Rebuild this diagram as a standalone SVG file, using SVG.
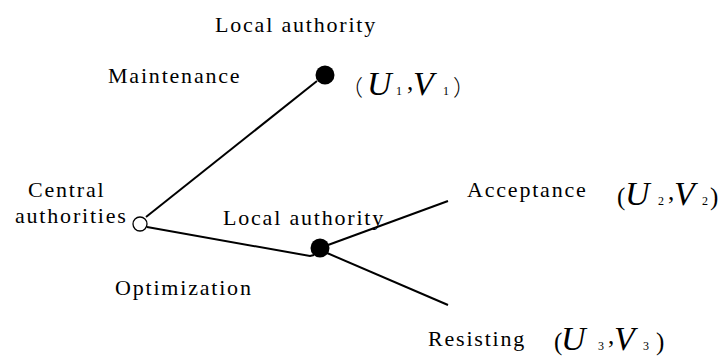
<svg xmlns="http://www.w3.org/2000/svg" width="719" height="358" viewBox="0 0 719 358">
<style>
.t{font-family:'Liberation Serif','Times New Roman',Times,serif;font-size:22px;letter-spacing:1.8px;fill:#000}
.m{font-family:'Liberation Serif','Times New Roman',Times,serif;fill:#000}
.v{font-style:italic;font-size:34px}
.s{font-size:12px}
.p{font-size:25px}
.cjk{font-family:'Noto Sans CJK SC','Liberation Serif',serif;font-size:22px;font-weight:300}
.c{stroke:#000;stroke-width:2;fill:none}
</style>
<rect width="719" height="358" fill="#fff"/>
<g id="connectors">
<path class="c" d="M146,217 L317,81"/>
<path class="c" d="M147,227 L310,256 L314,255"/>
<path class="c" d="M328,245 L448,201"/>
<path class="c" d="M327,253 L448,305"/>
</g>
<g id="central">
<circle cx="140" cy="224" r="7" fill="#fff" stroke="#000" stroke-width="1.3"/>
<text class="t" x="28" y="197">Central</text>
<text class="t" x="15" y="223">authorities</text>
</g>
<g id="local-top">
<circle cx="325" cy="75" r="9.5" fill="#000"/>
<text class="t" x="215" y="32">Local authority</text>
<text class="t" x="108" y="83">Maintenance</text>
<text class="m" y="95"><tspan class="cjk" x="341">（</tspan><tspan class="v" x="367">U</tspan><tspan class="s" x="396">1</tspan><tspan class="p" x="407" y="90">,</tspan><tspan class="v" x="413" y="95">V</tspan><tspan class="s" x="443">1</tspan><tspan class="cjk" x="453">）</tspan></text>
</g>
<g id="local-mid">
<circle cx="320" cy="248" r="9.5" fill="#000"/>
<text class="t" x="223" y="225">Local authority</text>
<text class="t" x="115" y="295">Optimization</text>
</g>
<g id="acceptance">
<text class="t" x="467" y="197">Acceptance</text>
<text class="m" y="205"><tspan class="p" x="617">(</tspan><tspan class="v" x="625">U</tspan><tspan class="s" x="658">2</tspan><tspan class="p" x="668" y="200">,</tspan><tspan class="v" x="674" y="205">V</tspan><tspan class="s" x="702">2</tspan><tspan class="p" x="710">)</tspan></text>
</g>
<g id="resisting">
<text class="t" x="428" y="346">Resisting</text>
<text class="m" y="350"><tspan class="p" x="554">(</tspan><tspan class="v" x="561">U</tspan><tspan class="s" x="598">3</tspan><tspan class="p" x="608" y="344">,</tspan><tspan class="v" x="614" y="350">V</tspan><tspan class="s" x="643">3</tspan><tspan class="p" x="656">)</tspan></text>
</g>
</svg>
